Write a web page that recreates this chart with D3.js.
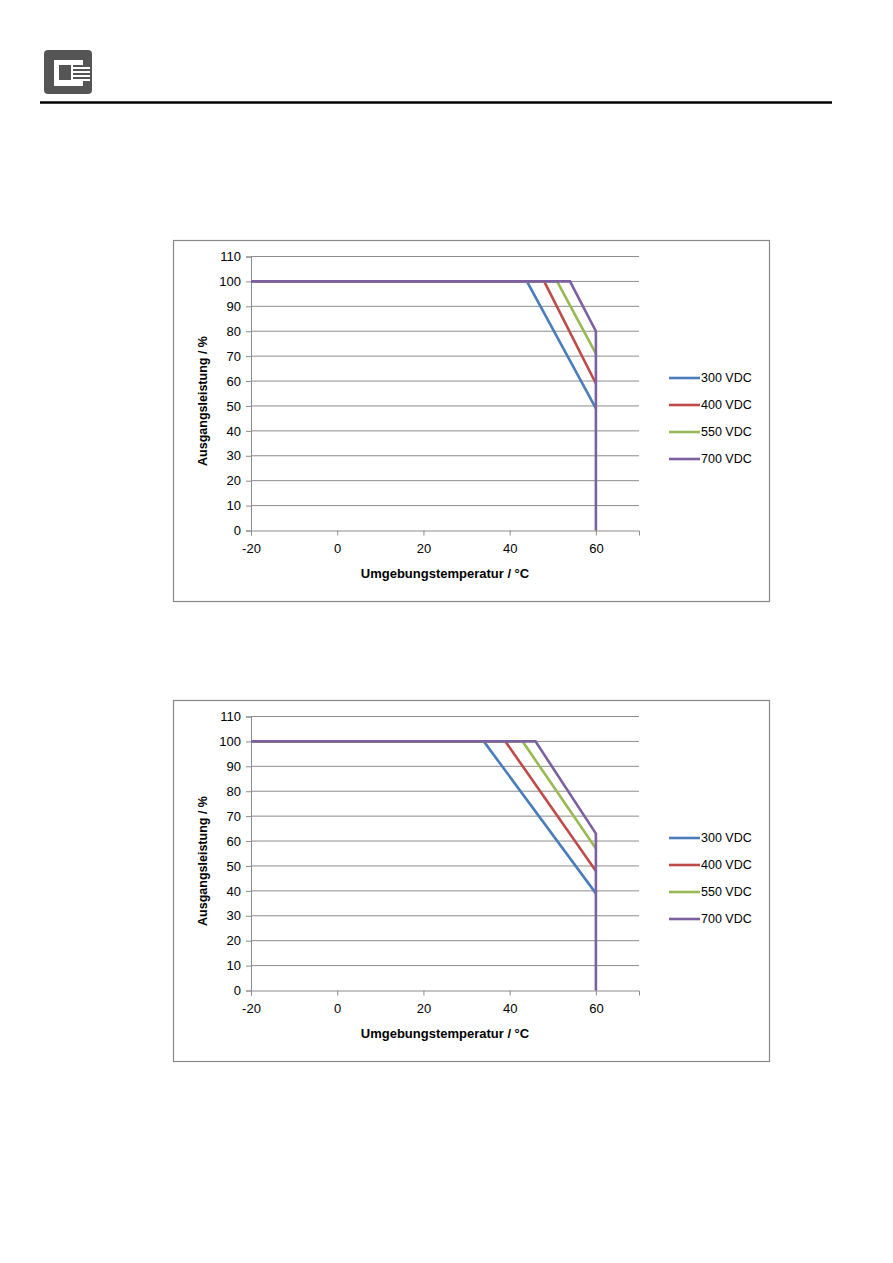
<!DOCTYPE html>
<html><head><meta charset="utf-8">
<script src="https://cdn.jsdelivr.net/npm/d3@7"></script>
<style>body{margin:0;background:#fff;}svg{display:block;font-family:"Liberation Sans","DejaVu Sans",sans-serif;}</style>
</head><body>
<svg id="page" width="893" height="1263"></svg>
<script>
const seriesNames = ["300 VDC", "400 VDC", "550 VDC", "700 VDC"];
const seriesColors = ["#4A7EBB", "#BE4B48", "#98B954", "#7D60A0"];
const xTicks = [-20, 0, 20, 40, 60];
const yTicks = [0, 10, 20, 30, 40, 50, 60, 70, 80, 90, 100, 110];

// Chart 1: [temperature, power]
const c1_300 = [[-20, 100], [44, 100], [60, 49]];
const c1_400 = [[-20, 100], [48, 100], [60, 59]];
const c1_550 = [[-20, 100], [51, 100], [60, 71]];
const c1_700 = [[-20, 100], [54, 100], [60, 80], [60, 0]];
// Chart 2
const c2_300 = [[-20, 100], [34, 100], [60, 39]];
const c2_400 = [[-20, 100], [39, 100], [60, 48]];
const c2_550 = [[-20, 100], [43, 100], [60, 57]];
const c2_700 = [[-20, 100], [46, 100], [60, 63], [60, 0]];

const svg = d3.select("#page");

// header logo
const logo = svg.append("g");
logo.append("rect").attr("x", 44).attr("y", 50).attr("width", 48).attr("height", 44).attr("rx", 4).attr("fill", "#555");
logo.append("path").attr("d", "M54,60 H83 V65 H59 V80 H83 V86 H54 Z").attr("fill", "#fff");
[67, 71, 75, 79].forEach(y => {
  logo.append("rect").attr("x", 72).attr("y", y).attr("width", 18).attr("height", 2).attr("fill", "#fff");
});
logo.append("rect").attr("x", 71).attr("y", 65).attr("width", 2).attr("height", 15).attr("fill", "#fff");
svg.append("line").attr("x1", 40).attr("x2", 832).attr("y1", 102.5).attr("y2", 102.5).attr("stroke", "#000").attr("stroke-width", 2.5);

function drawChart(top, data) {
  const g = svg.append("g");
  g.append("rect").attr("x", 173.5).attr("y", top + 0.5).attr("width", 596).attr("height", 361)
    .attr("fill", "#fff").attr("stroke", "#888").attr("stroke-width", 1.2);
  const x = d3.scaleLinear().domain([-20, 70]).range([251, 639]);
  const y = d3.scaleLinear().domain([0, 110]).range([top + 290.5, top + 16.5]);

  g.append("g").selectAll("line").data(yTicks.filter(v => v > 0)).join("line")
    .attr("x1", x(-20)).attr("x2", x(70)).attr("y1", d => y(d)).attr("y2", d => y(d))
    .attr("stroke", "#8c8c8c").attr("stroke-width", 1);

  const yAxis = g.append("g").attr("transform", `translate(${x(-20)},0)`)
    .call(d3.axisLeft(y).tickValues(yTicks).tickFormat(d => String(d)).tickSize(5).tickPadding(5));
  const xAxis = g.append("g").attr("transform", `translate(0,${y(0)})`)
    .call(d3.axisBottom(x).tickValues(xTicks).tickFormat(d => String(d)).tickSize(5).tickPadding(6));
  [yAxis, xAxis].forEach(a => {
    a.select(".domain").attr("stroke", "#8c8c8c");
    a.selectAll(".tick line").attr("stroke", "#8c8c8c");
    a.selectAll("text").attr("font-size", 13).attr("fill", "#000")
      .attr("font-family", '"Liberation Sans", sans-serif');
  });
  xAxis.selectAll("text").attr("dy", "0.9em");

  g.append("text").attr("x", 445).attr("y", top + 338).attr("text-anchor", "middle")
    .attr("font-size", 13).attr("font-weight", "bold").text("Umgebungstemperatur / °C");
  g.append("text").attr("transform", `translate(207,${top + 161}) rotate(-90)`).attr("text-anchor", "middle")
    .attr("font-size", 12.5).attr("font-weight", "bold").text("Ausgangsleistung / %");

  const line = d3.line().x(d => x(d[0])).y(d => y(d[1]));
  data.forEach((d, i) => {
    g.append("path").datum(d).attr("d", line).attr("fill", "none")
      .attr("stroke", seriesColors[i]).attr("stroke-width", 2.6).attr("stroke-linejoin", "miter");
  });

  const lg = g.append("g");
  seriesNames.forEach((n, i) => {
    const ly = top + 138 + i * 27;
    lg.append("line").attr("x1", 669).attr("x2", 700).attr("y1", ly).attr("y2", ly)
      .attr("stroke", seriesColors[i]).attr("stroke-width", 2.6);
    lg.append("text").attr("x", 701).attr("y", ly).attr("dy", "0.35em")
      .attr("font-size", 12.5).text(n);
  });
}

drawChart(240, [c1_300, c1_400, c1_550, c1_700]);
drawChart(700, [c2_300, c2_400, c2_550, c2_700]);
</script>
</body></html>
